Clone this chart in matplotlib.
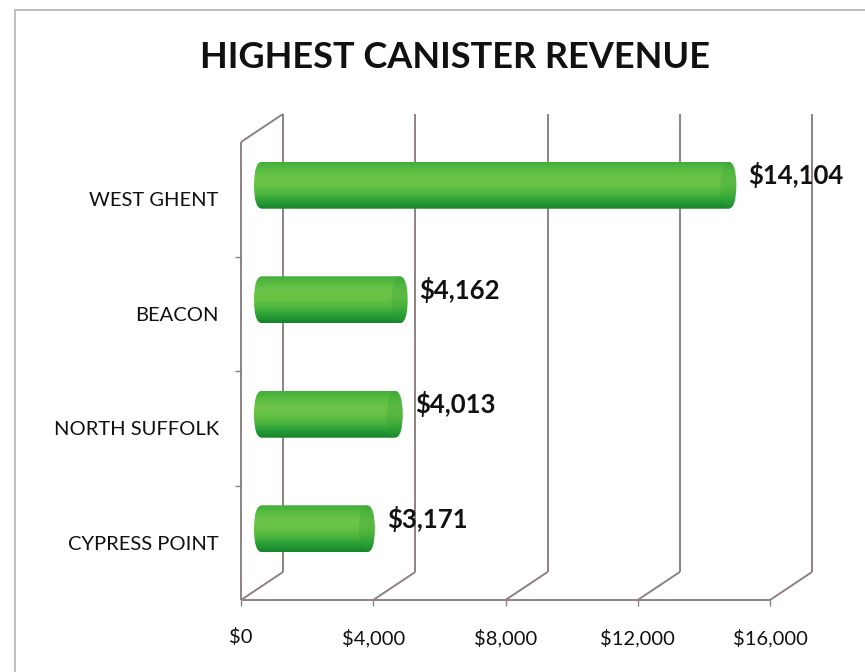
#!/usr/bin/env python3
"""Highest canister revenue, drawn as a pseudo 3D cylinder bar chart."""

import numpy as np
import matplotlib.pyplot as plt
from matplotlib.patches import FancyBboxPatch, Ellipse, Rectangle
from matplotlib.colors import LinearSegmentedColormap

regions = ["WEST GHENT", "BEACON", "NORTH SUFFOLK", "CYPRESS POINT"]
revenue = [14104, 4162, 4013, 3171]
x_ticks = [0, 4000, 8000, 12000, 16000]
x_tick_labels = ["$0", "$4,000", "$8,000", "$12,000", "$16,000"]

W, H, DPI = 865, 672, 100
GRID = "#8e8280"
TEXT = "#111111"
FONT = "Lato"

# axes box in pixels (front plane)
AX_L, AX_B, AX_W, AX_H = 241, 72, 529, 458
DEPTH_PX = (42, 28)   # offset of the back wall
CAP_PX = 8            # horizontal bulge of cylinder caps
BAR_H = 0.41


def main():
    fig = plt.figure(figsize=(W / DPI, H / DPI), dpi=DPI, facecolor="white")
    ax = fig.add_axes([AX_L / W, AX_B / H, AX_W / W, AX_H / H])
    ax.set_facecolor("none")

    xmax = x_ticks[-1]
    n = len(regions)
    ylo, yhi = -0.5, n - 0.5
    ax.set_xlim(0, xmax)
    ax.set_ylim(ylo, yhi)

    ux = xmax / AX_W          # data units per pixel
    uy = (yhi - ylo) / AX_H
    dx, dy = DEPTH_PX[0] * ux, DEPTH_PX[1] * uy
    cap = CAP_PX * ux

    line = dict(color=GRID, lw=1.4, clip_on=False, solid_capstyle="butt")
    # back wall gridlines and floor diagonals
    for v in x_ticks:
        ax.plot([v + dx, v + dx], [ylo + dy, yhi + dy], **line)
        ax.plot([v, v + dx], [ylo, ylo + dy], **line)
    # left wall and front axis
    ax.plot([0, 0], [ylo, yhi], **line)
    ax.plot([0, dx], [yhi, yhi + dy], **line)
    ax.plot([0, xmax], [ylo, ylo], **line)

    cmap = LinearSegmentedColormap.from_list(
        "cyl", ["#16842a", "#2a9f36", "#4db63e", "#67c246", "#6cc448",
                "#5cbd42", "#44ad3b"])
    grad = np.linspace(0, 1, 64).reshape(-1, 1)

    ypos = np.arange(n)[::-1]
    for y, v in zip(ypos, revenue):
        yc = y + dy / 2
        x0 = dx / 2 - cap
        x1 = v + dx / 2 + cap
        aspect = (BAR_H / 2) / cap
        patch = FancyBboxPatch(
            (x0, yc - BAR_H / 2), x1 - x0, BAR_H,
            boxstyle=f"round,pad=0,rounding_size={cap}",
            mutation_aspect=aspect, facecolor="none", edgecolor="none",
            clip_on=False, zorder=3)
        ax.add_patch(patch)
        im = ax.imshow(grad, cmap=cmap, origin="lower", aspect="auto",
                       extent=(x0, x1, yc - BAR_H / 2, yc + BAR_H / 2),
                       zorder=3, clip_on=True)
        im.set_clip_path(patch)
        # slightly darker end face
        end = Ellipse((x1 - cap, yc), 2 * cap, BAR_H,
                      facecolor="#2f9f36", edgecolor="none", alpha=0.28,
                      zorder=4, clip_on=False)
        ax.add_patch(end)
        end.set_clip_path(patch)

        ax.annotate(f"${v:,}", xy=(x1, yc), xytext=(12, 10),
                    textcoords="offset pixels", ha="left", va="center",
                    fontsize=18.5, fontweight="bold", color=TEXT,
                    family=FONT, annotation_clip=False, zorder=5)

    ax.set_xticks(x_ticks)
    ax.set_xticklabels(x_tick_labels, fontsize=14.5, color=TEXT, family=FONT)
    ax.tick_params(axis="x", length=4.5, width=1.0, color=GRID, pad=16)

    ax.set_yticks(ypos)
    ax.set_yticklabels(regions, fontsize=14.5, color=TEXT, family=FONT)
    ax.tick_params(axis="y", length=0, pad=16)
    ax.set_yticks(np.arange(n - 1) + 0.5, minor=True)
    ax.tick_params(axis="y", which="minor", length=4, width=1.0, color=GRID)

    for s in ax.spines.values():
        s.set_visible(False)

    fig.text(455 / W, 1 - 58 / H, "HIGHEST CANISTER REVENUE",
             ha="center", va="center", fontsize=26, fontweight="bold",
             color=TEXT, family=FONT)

    # light outer border of the chart area
    fig.patches.append(Rectangle((15 / W, -0.05), 1.1, 1 - 10 / H + 0.05,
                                 transform=fig.transFigure, fill=False,
                                 edgecolor="#b4b4b4", lw=1.2))

    fig.savefig("out.png", dpi=DPI, facecolor="white")
    plt.close(fig)


if __name__ == "__main__":
    main()
